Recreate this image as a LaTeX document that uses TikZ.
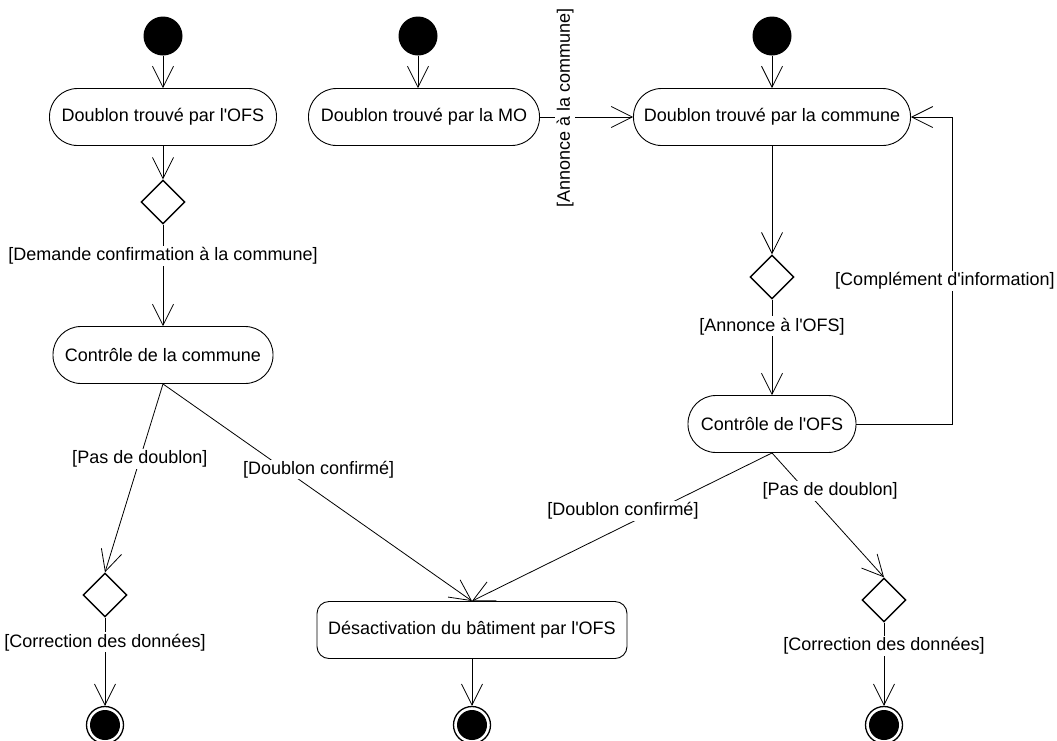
\documentclass[tikz,border=0pt]{standalone}
\usepackage{fontspec}
\setmainfont{Liberation Sans}
\usetikzlibrary{arrows.meta,shapes.geometric}
\begin{document}
\begin{tikzpicture}[x=1pt,y=-1pt]
		\tikzset{
			act/.style={draw, line width=0.9pt, rounded corners=28pt, minimum height=57pt, inner sep=0pt, font=\fontsize{18}{21}\selectfont},
			dec/.style={draw, diamond, line width=1.4pt, minimum size=44pt, inner sep=0pt},
			ini/.style={fill, circle, minimum size=39pt, inner sep=0pt},
			fin/.style={draw, circle, line width=1.3pt, minimum size=37pt, inner sep=0pt,
				path picture={\fill (path picture bounding box.center) circle[radius=15pt];}},
			lbl/.style={fill=white, inner sep=1.5pt, font=\fontsize{18}{21}\selectfont},
			flow/.style={line width=0.8pt, -{Straight Barb[length=21pt,width=21pt,line width=0.8pt]}},
		}
		\useasboundingbox (0,0) rectangle (1057,740);
		\node[ini] (s1) at (163,36) {};
		\node[ini] (s2) at (418,36) {};
		\node[ini] (s3) at (772,36) {};
		\node[act, minimum width=227pt] (ofs) at (163,117) {Doublon trouvé par l\textquotesingle OFS};
		\node[act, minimum width=231pt] (mo) at (424,117) {Doublon trouvé par la MO};
		\node[act, minimum width=277pt] (comm) at (772,117) {Doublon trouvé par la commune};
		\node[dec] (d1) at (163,202) {};
		\node[dec] (d2) at (772,277) {};
		\node[act, minimum width=220pt] (cc) at (163,355) {Contrôle de la commune};
		\node[act, minimum width=168pt] (cof) at (772,424) {Contrôle de l\textquotesingle OFS};
		\node[act, rounded corners=12pt, minimum width=310pt] (des) at (472,630) {Désactivation du bâtiment par l\textquotesingle OFS};
		\node[dec] (d3) at (105,595) {};
		\node[dec] (d4) at (884,600) {};
		\node[fin] (e1) at (105,725) {};
		\node[fin] (e2) at (472,725) {};
		\node[fin] (e3) at (884,725) {};
		\coordinate (loop) at (952,117);
		% start
		\draw[flow] (s1) -- (ofs);
		\draw[flow] (s2) -- (s2 |- mo.north);
		\draw[flow] (s3) -- (comm);
		\draw[flow] (mo) -- node[lbl, pos=0.27, yshift=9pt, rotate=90] {[Annonce à la commune]} (comm);
		% commune
		\draw[flow] (ofs) -- (d1);
		\draw[flow] (d1) -- node[lbl, pos=0.31] {[Demande confirmation à la commune]} (cc);
		\draw[flow] (cc.south) -- node[lbl, pos=0.4] {[Pas de doublon]} (d3.north);
		\draw[flow] (cc.south) -- node[lbl, pos=0.394, xshift=34pt] {[Doublon confirmé]} (des.north);
		% OFS
		\draw[flow] (comm) -- (d2);
		\draw[flow] (d2) -- node[lbl, pos=0.28] {[Annonce à l\textquotesingle OFS]} (cof);
		\draw[flow] (cof.east) -| node[lbl, pos=0.733, xshift=-7pt] {[Complément d\textquotesingle information]} (loop) -- (comm.east);
		\draw[flow] (cof.south) -- node[lbl, pos=0.39, xshift=-32pt] {[Doublon confirmé]} (des.north);
		\draw[flow] (cof.south) -- node[lbl, pos=0.304, xshift=24pt] {[Pas de doublon]} (d4.north);
		% end
		\draw[flow] (d3) -- node[lbl, pos=0.28] {[Correction des données]} (e1);
		\draw[flow] (des) -- (e2);
		\draw[flow] (d4) -- node[lbl, pos=0.28] {[Correction des données]} (e3);
\end{tikzpicture}
\end{document}
